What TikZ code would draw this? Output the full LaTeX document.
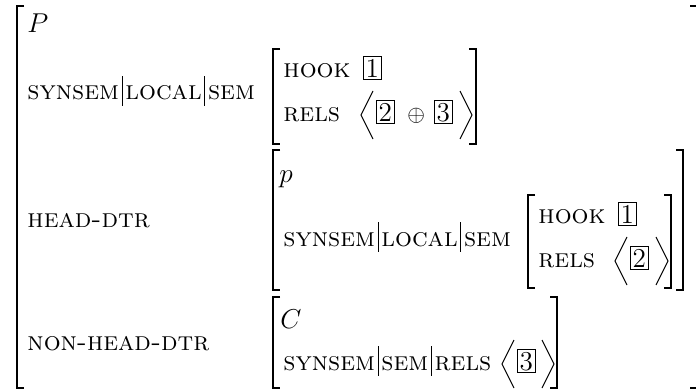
\RequirePackage{fix-cm}
\documentclass[tikz,border=0pt]{standalone}
\usetikzlibrary{positioning}
\newcommand{\feat}[1]{{\fontsize{11.7}{14}\selectfont\textsc{#1}}}
\newcommand{\pathsep}{\hspace{1.2pt}\rule[-2.5pt]{0.4pt}{13pt}\hspace{1.2pt}}
\newcommand{\openang}[2]{\draw[brk] ({#1+12},{#2-24}) -- (#1,#2) -- ({#1+12},{#2+24});}
\newcommand{\closeang}[2]{\draw[brk] (#1,{#2-24}) -- ({#1+12},#2) -- (#1,{#2+24});}
\tikzset{
  brk/.style={line width=0.45pt},
  txt/.style={anchor=base west, inner sep=0pt},
  sym/.style={anchor=base west, inner sep=0pt, font=\large},
  tagbox/.style={draw, line width=0.4pt, inner sep=1pt, anchor=base west, font=\large}
}
\begin{document}
\begin{tikzpicture}[x=0.44pt, y=-0.44pt]
    \useasboundingbox (0,0) rectangle (696,390);
    % outer matrix
    \draw[brk] (24,6) -- (17,6) -- (17,388) -- (24,388);
    \draw[brk] (690,6) -- (698,6) -- (698,388) -- (690,388);
    \node[sym] (attrP) at (27,32) {$P$};
    \node[txt] (pathTop) at (27,100) {\feat{synsem}\pathsep\feat{local}\pathsep\feat{sem}};
    \node[txt] (headDtr) at (27,227) {\feat{head-dtr}};
    \node[txt] (nonHeadDtr) at (27,350) {\feat{non-head-dtr}};
    % semantics of the mother
    \draw[brk] (280,49) -- (273,49) -- (273,144) -- (280,144);
    \draw[brk] (469,49) -- (476,49) -- (476,144) -- (469,144);
    \node[txt] (hookTop) at (283,77) {\feat{hook}};
    \node[tagbox] (tagOneTop) at (363,77) {1};
    \node[txt] (relsTop) at (283,121) {\feat{rels}};
    \openang{361}{115}
    \node[tagbox] (tagTwoTop) at (376,121) {2};
    \node[txt] (plusTop) at (407,121) {$\oplus$};
    \node[tagbox] (tagThreeTop) at (434,121) {3};
    \closeang{460}{115}
    % head daughter
    \draw[brk] (280,150) -- (273,150) -- (273,290) -- (280,290);
    \draw[brk] (676,150) -- (683,150) -- (683,290) -- (676,290);
    \node[sym] (attrp) at (279,182) {$p$};
    \node[txt] (pathHead) at (283,246) {\feat{synsem}\pathsep\feat{local}\pathsep\feat{sem}};
    \draw[brk] (535,195) -- (528,195) -- (528,288) -- (535,288);
    \draw[brk] (664,195) -- (671,195) -- (671,288) -- (664,288);
    \node[txt] (hookHead) at (538,223) {\feat{hook}};
    \node[tagbox] (tagOneHead) at (618,223) {1};
    \node[txt] (relsHead) at (538,267) {\feat{rels}};
    \openang{615}{261}
    \node[tagbox] (tagTwoHead) at (630,267) {2};
    \closeang{656}{261}
    % non-head daughter
    \draw[brk] (280,297) -- (273,297) -- (273,388) -- (280,388);
    \draw[brk] (550,297) -- (557,297) -- (557,388) -- (550,388);
    \node[sym] (attrC) at (280,328) {$C$};
    \node[txt] (pathNon) at (283,370) {\feat{synsem}\pathsep\feat{sem}\pathsep\feat{rels}};
    \openang{502}{364}
    \node[tagbox] (tagThreeNon) at (517,370) {3};
    \closeang{542}{364}
\end{tikzpicture}
\end{document}
